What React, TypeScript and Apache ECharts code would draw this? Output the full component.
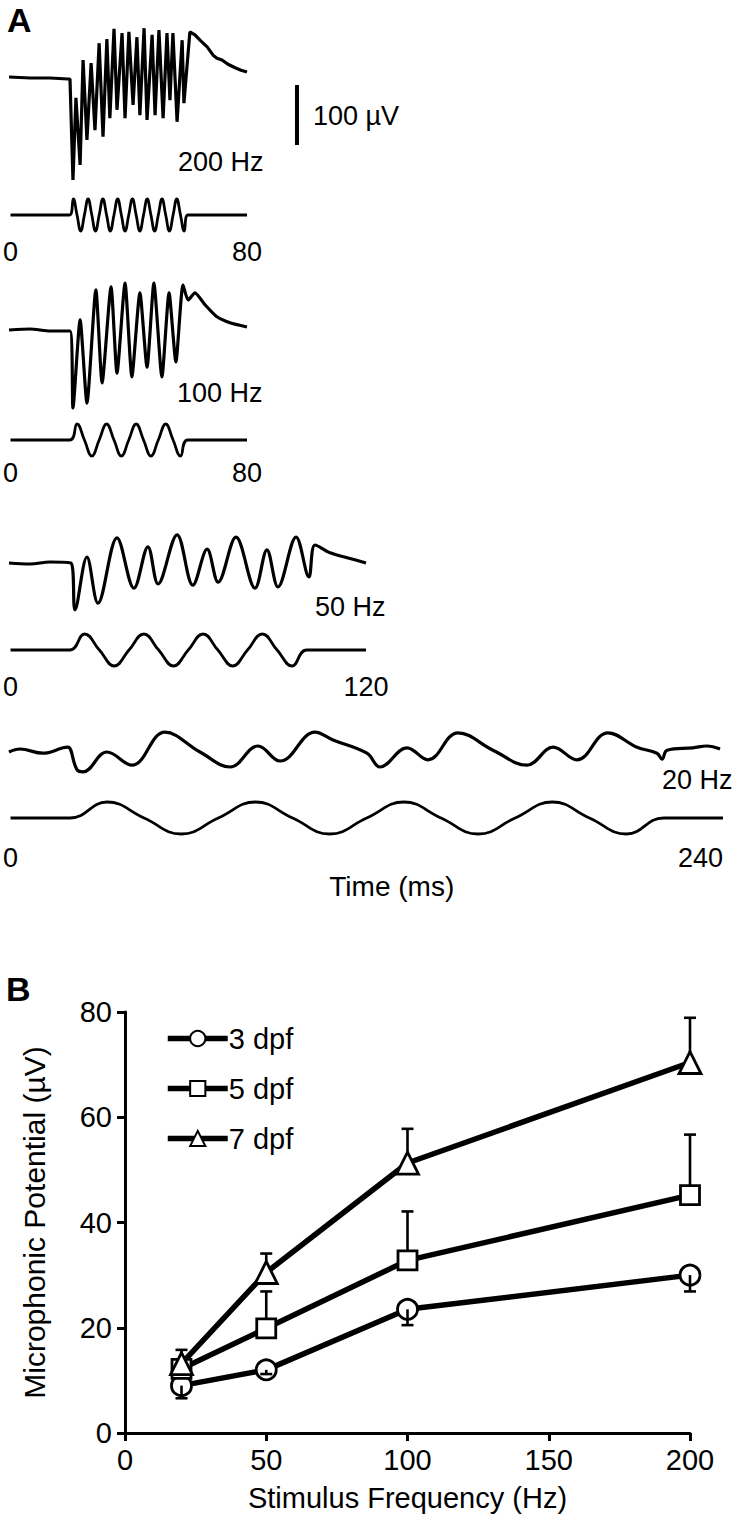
import React, { useEffect, useRef } from "react";
import * as echarts from "echarts";

const FONT = "'Liberation Sans', Arial, Helvetica, sans-serif";

// ---------- Panel A: recorded microphonic responses (time ms, potential µV) ----------
const resp200: number[][] = [
  [0, 1.7], [7.1, 0], [13.8, 0], [19.8, -1.7], [20.5, -1.7],
  [21.5, -170], [22.5, -33], [23.9, -145], [24.9, 30], [26.2, -103], [27.6, 25],
  [28.9, -87], [30.3, 58], [31.6, -98], [32.9, 65], [33.9, -67], [35.3, 82],
  [36.3, -53], [38.0, 75], [39.0, -67], [40.3, 77], [41.7, -45], [43.0, 68],
  [44.0, -62], [45.4, 83], [46.4, -70], [48.1, 72], [49.1, -62], [50.4, 80],
  [51.8, -67], [53.1, 75], [54.1, -37], [55.1, 75], [56.5, -73], [58.2, 63],
  [58.8, -42], [60.8, 77], [62.5, 72], [64.2, 63], [66.6, 52], [68.6, 38],
  [69.9, 33], [71.6, 30], [73.6, 23], [76.0, 17], [78.0, 13], [80, 10],
];
const resp100: number[][] = [
  [0, 0], [7.1, 1.7], [13.8, -1.7], [20.5, -1.7], [21.5, -130], [23.9, 17],
  [26.2, -122], [29.2, 67], [31.3, -88], [34.3, 72], [36.3, -72], [39.0, 78],
  [41.3, -78], [44.0, 62], [46.4, -62], [48.7, 78], [51.4, -78], [53.8, 62],
  [56.1, -53], [58.5, 75], [60.2, 50], [62.5, 62], [65.9, 42], [69.9, 22],
  [74.3, 12], [80, 5],
];
const resp50: number[][] = [
  [0, 0], [7.1, -1.7], [13.8, 1.7], [20.8, 0], [22.2, -78], [26.2, 10],
  [29.9, -67], [36.3, 42], [42.0, -42], [46.7, 27], [50.1, -35], [56.5, 47],
  [61.8, -37], [66.6, 23], [70.3, -32], [76.3, 43], [82.7, -42], [86.7, 22],
  [90.4, -40], [96.5, 43], [100.8, -23], [102.9, 30], [107.9, 17], [114.3, 8],
  [120, 0],
];
const resp20: number[][] = [
  [0, 0], [3.7, 5], [11.4, -2], [18.2, 7], [19.8, 8], [22.9, -30], [24.9, -33],
  [32.9, 0], [41.3, -22], [52.4, 33], [64.2, 0], [74.3, -25], [83.7, 10],
  [91.1, -15], [102.9, 33], [108.9, 20], [120.3, -2], [124.7, -25], [133.8, 7],
  [140.8, -13], [150.9, 32], [162.7, 3], [174.1, -22], [182.9, 8], [190.9, -13],
  [201.3, 32], [211.1, 8], [217.8, -2], [219.5, -12], [221.2, 3], [229.9, 7],
  [234.6, 10], [239, 5],
];

// ---------- Panel A: stimulus waveforms (time ms, relative amplitude) ----------
const stim200: number[][] = [
  [0, 0], [20, 0], [21.25, 1], [22.5, 0], [23.75, -1], [25, 0], [26.25, 1], [27.5, 0],
  [28.75, -1], [30, 0], [31.25, 1], [32.5, 0], [33.75, -1], [35, 0], [36.25, 1],
  [37.5, 0], [38.75, -1], [40, 0], [41.25, 1], [42.5, 0], [43.75, -1], [45, 0],
  [46.25, 1], [47.5, 0], [48.75, -1], [50, 0], [51.25, 1], [52.5, 0], [53.75, -1],
  [55, 0], [56.25, 1], [57.5, 0], [58.75, -1], [60, 0], [80, 0],
];
const stim100: number[][] = [
  [0, 0], [20, 0], [22.5, 1], [25, 0], [27.5, -1], [30, 0], [32.5, 1], [35, 0],
  [37.5, -1], [40, 0], [42.5, 1], [45, 0], [47.5, -1], [50, 0], [52.5, 1], [55, 0],
  [57.5, -1], [60, 0], [80, 0],
];
const stim50: number[][] = [
  [0, 0], [20, 0], [25, 1], [30, 0], [35, -1], [40, 0], [45, 1], [50, 0], [55, -1],
  [60, 0], [65, 1], [70, 0], [75, -1], [80, 0], [85, 1], [90, 0], [95, -1], [100, 0],
  [120, 0],
];
const stim20: number[][] = [
  [0, 0], [20, 0], [32.5, 1], [45, 0], [57.5, -1], [70, 0], [82.5, 1], [95, 0],
  [107.5, -1], [120, 0], [132.5, 1], [145, 0], [157.5, -1], [170, 0], [182.5, 1],
  [195, 0], [207.5, -1], [220, 0], [240, 0],
];
const traceLengths = [80, 80, 120, 240]; // ms
const freqLabels = ["200 Hz", "100 Hz", "50 Hz", "20 Hz"];
const scaleBar: number[][] = [[0, 0], [0, 100]]; // 100 µV

// ---------- Panel B ----------
const freqs = [20, 50, 100, 200];
const groups = ["3 dpf", "5 dpf", "7 dpf"];
const mean3 = [9, 12, 23.5, 30];
const end3 = [6.6, 11.2, 20.5, 26.9]; // error bars drawn downwards
const mean5 = [12.2, 19.9, 32.8, 45.2];
const end5 = [13.7, 26.9, 42.1, 56.7];
const mean7 = [13.2, 30.5, 51.3, 70.4];
const end7 = [15.8, 34.1, 57.8, 78.9];
const xTicksB = [0, 200, 50];
const yTicksB = [0, 80, 20];

function buildOption() {
  const grids: any[] = [];
  const xAxes: any[] = [];
  const yAxes: any[] = [];
  const series: any[] = [];

  const pxPerMs = 2.975;
  const respCfg = [
    { data: resp200, base: 78, min: -180, max: 90, smooth: false },
    { data: resp100, base: 330, min: -140, max: 90, smooth: 0.2 },
    { data: resp50, base: 563, min: -90, max: 50, smooth: 0.35 },
    { data: resp20, base: 752, min: -45, max: 45, smooth: 0.4 },
  ];
  const stimCfg = [
    { data: stim200, base: 215, margin: 6 },
    { data: stim100, base: 440, margin: 2 },
    { data: stim50, base: 650, margin: 6 },
    { data: stim20, base: 818, margin: 9 },
  ];
  const pxPerUv = 0.6;

  respCfg.forEach((c, i) => {
    const gi = grids.length;
    const len = traceLengths[i];
    grids.push({
      left: 9,
      width: len * pxPerMs,
      top: c.base - c.max * pxPerUv,
      height: (c.max - c.min) * pxPerUv,
    });
    xAxes.push({ type: "value", gridIndex: gi, min: 0, max: len, show: false });
    yAxes.push({ type: "value", gridIndex: gi, min: c.min, max: c.max, show: false });
    series.push({
      type: "line",
      name: "response " + freqLabels[i],
      xAxisIndex: gi,
      yAxisIndex: gi,
      data: c.data,
      symbol: "none",
      smooth: c.smooth,
      silent: true,
      lineStyle: { color: "#000", width: 3.2 },
    });
  });

  stimCfg.forEach((c, i) => {
    const gi = grids.length;
    const len = traceLengths[i];
    const amp = 16;
    grids.push({
      left: 9,
      width: len * pxPerMs,
      top: c.base - 1.1 * amp,
      height: 2.2 * amp,
    });
    const axis: any = {
      type: "value",
      gridIndex: gi,
      min: 0,
      max: len,
      interval: len,
      axisLine: { show: false },
      axisTick: { show: false },
      splitLine: { show: false },
      axisLabel: {
        fontSize: 27,
        color: "#000",
        fontFamily: FONT,
        margin: c.margin,
        alignMaxLabel: len === 240 ? "right" : "center",
      },
    };
    if (i === 3) {
      axis.name = "Time (ms)";
      axis.nameLocation = "middle";
      axis.nameGap = 34;
      axis.nameTextStyle = { fontSize: 28, color: "#000", fontFamily: FONT, padding: [0, 0, 0, 50] };
    }
    xAxes.push(axis);
    yAxes.push({ type: "value", gridIndex: gi, min: -1.1, max: 1.1, show: false });
    series.push({
      type: "line",
      name: "stimulus " + freqLabels[i],
      xAxisIndex: gi,
      yAxisIndex: gi,
      data: c.data,
      symbol: "none",
      smooth: 0.45,
      silent: true,
      lineStyle: { color: "#000", width: 2.8 },
    });
  });

  // scale bar grid
  {
    const gi = grids.length;
    grids.push({ left: 292, width: 10, top: 85, height: 60 });
    xAxes.push({ type: "value", gridIndex: gi, min: -1, max: 1, show: false });
    yAxes.push({ type: "value", gridIndex: gi, min: 0, max: 100, show: false });
    series.push({
      type: "line",
      name: "scale bar",
      xAxisIndex: gi,
      yAxisIndex: gi,
      data: scaleBar,
      symbol: "none",
      silent: true,
      lineStyle: { color: "#000", width: 4, cap: "butt" },
    });
  }

  // Panel B grid
  const gb = grids.length;
  grids.push({ left: 125, top: 1012, width: 565, height: 421 });
  xAxes.push({
    type: "value",
    gridIndex: gb,
    min: xTicksB[0],
    max: xTicksB[1],
    interval: xTicksB[2],
    name: "Stimulus Frequency (Hz)",
    nameLocation: "middle",
    nameGap: 50,
    nameTextStyle: { fontSize: 29, color: "#000", fontFamily: FONT },
    axisLine: { lineStyle: { color: "#000", width: 3 } },
    axisTick: { length: 8, lineStyle: { color: "#000", width: 3 } },
    axisLabel: { fontSize: 29, color: "#000", margin: 12, fontFamily: FONT },
    splitLine: { show: false },
  });
  yAxes.push({
    type: "value",
    gridIndex: gb,
    min: yTicksB[0],
    max: yTicksB[1],
    interval: yTicksB[2],
    name: "Microphonic Potential (µV)",
    nameLocation: "middle",
    nameGap: 76,
    nameTextStyle: { fontSize: 30, color: "#000", fontFamily: FONT },
    axisLine: { show: true, lineStyle: { color: "#000", width: 3 } },
    axisTick: { show: true, length: 8, lineStyle: { color: "#000", width: 3 } },
    axisLabel: { fontSize: 29, color: "#000", margin: 13, fontFamily: FONT },
    splitLine: { show: false },
  });

  const groupData = [
    { name: groups[0], mean: mean3, end: end3, symbol: "circle", size: 20, errZ: 4 },
    { name: groups[1], mean: mean5, end: end5, symbol: "rect", size: 19, errZ: 1 },
    { name: groups[2], mean: mean7, end: end7, symbol: "triangle", size: 22, errZ: 1 },
  ];
  groupData.forEach((g) => {
    series.push({
      type: "custom",
      name: g.name + " error",
      xAxisIndex: gb,
      yAxisIndex: gb,
      z: g.errZ,
      silent: true,
      data: freqs.map((f, i) => [f, g.mean[i], g.end[i]]),
      renderItem: (_params: any, api: any) => {
        const x = api.value(0);
        const p1 = api.coord([x, api.value(1)]);
        const p2 = api.coord([x, api.value(2)]);
        const style = { stroke: "#000", lineWidth: 2.6, fill: "none" };
        return {
          type: "group",
          children: [
            { type: "line", shape: { x1: p1[0], y1: p1[1], x2: p2[0], y2: p2[1] }, style },
            { type: "line", shape: { x1: p2[0] - 6, y1: p2[1], x2: p2[0] + 6, y2: p2[1] }, style },
          ],
        };
      },
    });
    series.push({
      type: "line",
      name: g.name,
      xAxisIndex: gb,
      yAxisIndex: gb,
      z: 2,
      data: freqs.map((f, i) => [f, g.mean[i]]),
      symbol: g.symbol,
      symbolSize: g.size,
      showSymbol: true,
      lineStyle: { color: "#000", width: 5.5 },
      itemStyle: { color: "#fff", borderColor: "#000", borderWidth: 2.8 },
    });
  });

  const graphic: any[] = [
    { type: "text", left: 7, top: 3, style: { text: "A", font: `bold 34px ${FONT}`, fill: "#000" } },
    { type: "text", left: 6, top: 972, style: { text: "B", font: `bold 34px ${FONT}`, fill: "#000" } },
    { type: "text", x: 313, y: 116, style: { text: "100 µV", font: `27px ${FONT}`, fill: "#000", verticalAlign: "middle" } },
  ];
  const labelPos = [
    [178, 162],
    [177, 393],
    [315, 607],
    [662, 780],
  ];
  freqLabels.forEach((t, i) => {
    graphic.push({
      type: "text",
      x: labelPos[i][0],
      y: labelPos[i][1],
      style: { text: t, font: `27px ${FONT}`, fill: "#000", verticalAlign: "middle" },
    });
  });

  return {
    animation: false,
    backgroundColor: "#fff",
    textStyle: { fontFamily: FONT },
    grid: grids,
    xAxis: xAxes,
    yAxis: yAxes,
    legend: {
      data: groups,
      orient: "vertical",
      left: 160,
      top: 1019,
      itemWidth: 60,
      itemHeight: 19,
      itemGap: 21,
      selectedMode: false,
      lineStyle: { color: "#000", width: 5.5 },
      textStyle: { fontSize: 29, color: "#000", fontFamily: FONT, padding: [0, 0, 0, -4] },
    },
    graphic,
    series,
  };
}

export default function App() {
  const ref = useRef<HTMLDivElement>(null);
  useEffect(() => {
    if (!ref.current) return;
    const chart = echarts.init(ref.current, null, { renderer: "svg" });
    chart.setOption(buildOption() as any);
    return () => chart.dispose();
  }, []);
  return (
    <div
      ref={ref}
      style={{ position: "absolute", left: 0, top: 0, width: 737, height: 1520, background: "#fff" }}
    />
  );
}
